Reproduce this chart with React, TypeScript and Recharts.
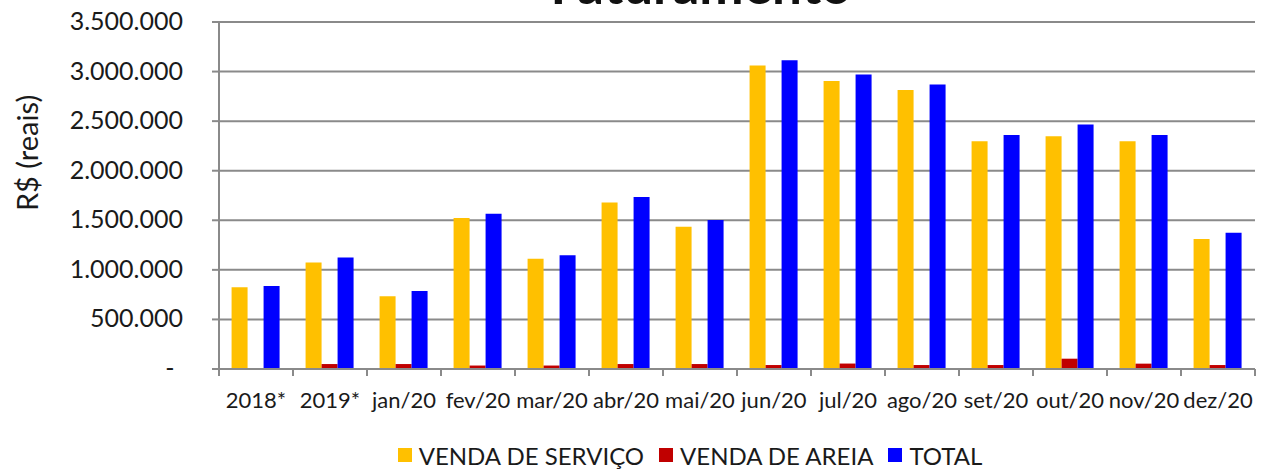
import { BarChart, Bar, XAxis, YAxis, CartesianGrid, Legend } from 'recharts';

const categories = ['2018*', '2019*', 'jan/20', 'fev/20', 'mar/20', 'abr/20', 'mai/20', 'jun/20', 'jul/20', 'ago/20', 'set/20', 'out/20', 'nov/20', 'dez/20'];
const vendaServico = [825000, 1074000, 734000, 1522000, 1111000, 1680000, 1434000, 3060000, 2906000, 2815000, 2296000, 2347000, 2296000, 1310000];
const vendaAreia = [0, 50000, 50000, 35000, 35000, 50000, 50000, 40000, 55000, 40000, 40000, 104000, 54000, 40000];
const total = [838000, 1125000, 788000, 1566000, 1148000, 1734000, 1502000, 3114000, 2970000, 2869000, 2360000, 2465000, 2360000, 1374000];
const yTicks = [0, 500000, 1000000, 1500000, 2000000, 2500000, 3000000, 3500000];

const series = [
  { key: 'servico', name: 'VENDA DE SERVIÇO', color: '#FFC000' },
  { key: 'areia', name: 'VENDA DE AREIA', color: '#C00000' },
  { key: 'total', name: 'TOTAL', color: '#0000FF' },
];

const data = categories.map((c, i) => ({
  name: c,
  servico: vendaServico[i],
  areia: vendaAreia[i],
  total: total[i],
}));

const W = 1262;
const H = 470;
const Y_AXIS_W = 219;
const MARGIN = { top: 22, right: 7, bottom: 0, left: 0 };
const BAND = (W - MARGIN.right - Y_AXIS_W) / categories.length;
const FONT = 'Lato, "Open Sans", sans-serif';
const GRID = '#8a8a8a';
const TEXT = '#1a1a1a';

// separador de milhar com ponto
const fmt = (v: number) => String(v).replace(/\B(?=(\d{3})+(?!\d))/g, '.');

function XTick({ x, y, payload, index }: any) {
  return (
    <g>
      <line x1={x - BAND / 2} x2={x - BAND / 2} y1={y} y2={y + 7} stroke={GRID} strokeWidth={2} />
      {index === categories.length - 1 && (
        <line x1={x + BAND / 2} x2={x + BAND / 2} y1={y} y2={y + 7} stroke={GRID} strokeWidth={2} />
      )}
      <text x={x} y={y + 39} textAnchor="middle" fontSize={22} fontFamily={FONT} fill={TEXT}>
        {payload.value}
      </text>
    </g>
  );
}

function YTick({ x, y, payload }: any) {
  if (payload.value === 0) {
    return (
      <text x={x - 15} y={y + 8} textAnchor="middle" fontSize={25} fontFamily={FONT} fill={TEXT}>-</text>
    );
  }
  return (
    <text x={x - 2} y={y + 8} textAnchor="end" fontSize={25} fontFamily={FONT} fill={TEXT}>
      {fmt(payload.value)}
    </text>
  );
}

function LegendContent() {
  return (
    <div style={{ height: 30, display: 'flex', justifyContent: 'center', alignItems: 'center', gap: 15, fontFamily: FONT, fontSize: 24, color: TEXT, paddingLeft: 125 }}>
      {series.map((s) => (
        <div key={s.key} style={{ display: 'flex', alignItems: 'center', gap: 7 }}>
          <span style={{ width: 14, height: 14, background: s.color, display: 'inline-block' }} />
          <span>{s.name}</span>
        </div>
      ))}
    </div>
  );
}

export default function App() {
  return (
    <div style={{ position: 'absolute', left: 0, top: 0, width: W, height: H, background: '#fff' }}>
      <BarChart width={W} height={H} data={data} margin={MARGIN} barCategoryGap="17%" barGap={0}>
        <CartesianGrid vertical={false} stroke={GRID} strokeWidth={2} />
        <XAxis
          dataKey="name"
          interval={0}
          height={71}
          tickSize={0}
          tickMargin={0}
          tickLine={false}
          axisLine={{ stroke: GRID, strokeWidth: 2 }}
          tick={<XTick />}
        />
        <YAxis
          width={Y_AXIS_W}
          domain={[0, 3500000]}
          ticks={yTicks}
          interval={0}
          tickSize={7}
          tickMargin={27}
          tickLine={{ stroke: GRID, strokeWidth: 2 }}
          axisLine={{ stroke: GRID, strokeWidth: 2 }}
          tick={<YTick />}
          label={{
            content: () => (
              <text x={38} y={153} transform="rotate(-90 38 153)" textAnchor="middle" fontSize={29} fontFamily={FONT} fill={TEXT}>
                R$ (reais)
              </text>
            ),
          }}
        />
        <Legend verticalAlign="bottom" content={<LegendContent />} />
        {series.map((s) => (
          <Bar key={s.key} dataKey={s.key} name={s.name} fill={s.color} isAnimationActive={false} />
        ))}
      </BarChart>
      <svg width={W} height={24} style={{ position: 'absolute', left: 0, top: 0 }}>
        <text x={701} y={4} textAnchor="middle" fontSize={53} fontWeight="bold" fontFamily={FONT} fill="#111">
          Faturamento
        </text>
      </svg>
    </div>
  );
}
